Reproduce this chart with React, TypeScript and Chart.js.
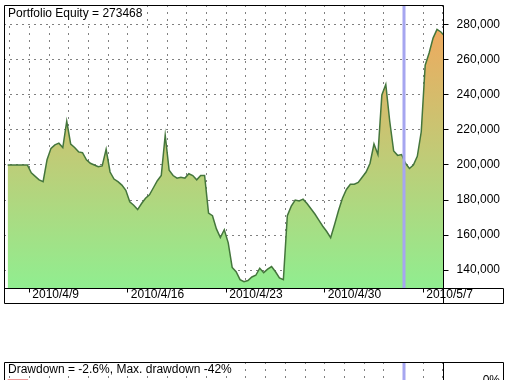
import React, { useEffect, useRef } from 'react';
import { Chart, registerables } from 'chart.js';

Chart.register(...registerables);

// ---- data (x in trading-day units, 0.2 day per sample) ----
const START_DAY = 2.9;
const STEP_DAY = 0.2;
const EQUITY = [
  200000, 200000, 200000, 200000, 200000, 200000,
  195500, 193500, 191500, 190500, 203000,
  209500, 211500, 212500, 210000, 225000,
  212000, 210000, 207500, 207000, 203000,
  201000, 200000, 199000, 199500, 209000,
  196000, 192000, 190500, 188500, 185500,
  179000, 177000, 174500, 178000, 181000,
  183000, 187000, 191000, 194000, 217000,
  197000, 194000, 192500, 193000, 192500,
  195000, 194000, 191500, 194000, 194000,
  172500, 171000, 163500, 158500, 163000,
  155500, 141500, 139000, 134500, 133300,
  134000, 136000, 137000, 141000, 138500,
  140500, 142000, 139000, 135500, 134500,
  171000, 176500, 180000, 179500, 180500,
  178000, 175000, 172000, 168500, 165000,
  162000, 158500, 166000, 174000, 181000,
  186000, 189000, 189000, 190000, 193000,
  196000, 201000, 212000, 206000, 240000,
  246000, 225000, 208000, 205500, 206000,
  201000, 198000, 200000, 205000, 219000,
  257000, 264000, 272500, 277500, 276000, 273468,
];
const DRAWDOWN = [0, 0, 0, 0, 0, 0, -2.3, -3.3, -4.3];

const TICK_LABELS: Record<number, string> = {
  4: '2010/4/9',
  9: '2010/4/16',
  14: '2010/4/23',
  19: '2010/4/30',
  24: '2010/5/7',
};
const DAY_GRID = [3, 4, 5, 6, 7, 8, 9, 10, 11, 12, 13, 14, 15, 16, 17, 18, 19, 20, 21, 22, 23, 24, 25];
const Y_TICKS = [140000, 160000, 180000, 200000, 220000, 240000, 260000, 280000];
const DD_TICKS = [0];
const CURSOR_DAY = 23;
const X_MIN = 2.74;
const X_MAX = 25.03;
const Y_MIN = 129430;
const Y_MAX = 291140;
const DD_MIN = -44;
const DD_MAX = 4;
const TITLE = 'Portfolio Equity = 273468';
const DD_TITLE = 'Drawdown = -2.6%, Max. drawdown -42%';

const FONT = "'Liberation Sans', Arial, sans-serif";
Chart.defaults.font.family = FONT;
Chart.defaults.font.size = 12;
Chart.defaults.color = '#000';

function xScale(showLabels: boolean): any {
  return {
    type: 'linear',
    position: 'bottom',
    min: X_MIN,
    max: X_MAX,
    afterBuildTicks: (s: any) => {
      s.ticks = DAY_GRID.map((v) => ({ value: v }));
    },
    afterFit: (s: any) => {
      s.height = showLabels ? 15 : 0;
      s.paddingLeft = 0;
      s.paddingRight = 0;
    },
    grid: {
      color: '#000',
      lineWidth: 1,
      drawTicks: showLabels,
      tickLength: 4,
      tickWidth: 1,
      tickBorderDash: [],
      tickColor: (c: any) => (c.tick && TICK_LABELS[c.tick.value] ? '#000' : 'rgba(0,0,0,0)'),
    },
    border: { display: false, dash: [1, 6] },
    ticks: {
      display: showLabels,
      autoSkip: false,
      maxRotation: 0,
      minRotation: 0,
      align: 'start',
      labelOffset: 3,
      padding: -5,
      color: '#000',
      font: { size: 12, family: FONT },
      callback: (v: any) => TICK_LABELS[v] ?? '',
    },
  };
}

function cursorPlugin(): any {
  return {
    id: 'cursor',
    afterDatasetsDraw(chart: any) {
      const { ctx, chartArea } = chart;
      const x = chart.scales.x.getPixelForValue(CURSOR_DAY);
      ctx.save();
      ctx.fillStyle = '#a6a6f0';
      ctx.fillRect(Math.round(x) - 1.5, chartArea.top, 3, chartArea.bottom - chartArea.top);
      ctx.restore();
    },
  };
}

function EquityChart() {
  const ref = useRef<HTMLCanvasElement>(null);
  useEffect(() => {
    const points = EQUITY.map((v, i) => ({ x: START_DAY + i * STEP_DAY, y: v }));
    const framePlugin = {
      id: 'frame',
      afterDraw(chart: any) {
        const { ctx, chartArea: a, width, height } = chart;
        ctx.save();
        ctx.fillStyle = '#fff';
        ctx.fillRect(a.left + 0.5, a.top + 0.5, 140, 15);
        ctx.fillStyle = '#000';
        ctx.font = `12px ${FONT}`;
        ctx.textBaseline = 'alphabetic';
        ctx.textAlign = 'left';
        ctx.fillText(TITLE, a.left + 3.5, a.top + 11.5);
        ctx.strokeStyle = '#000';
        ctx.lineWidth = 1;
        const outerR = width - 1.5;
        const outerB = height - 1.5;
        ctx.beginPath();
        ctx.moveTo(a.left, a.top); ctx.lineTo(a.right, a.top);
        ctx.moveTo(a.left, a.top); ctx.lineTo(a.left, outerB);
        ctx.moveTo(a.right, a.top); ctx.lineTo(a.right, outerB);
        ctx.moveTo(a.left, a.bottom); ctx.lineTo(outerR, a.bottom);
        ctx.moveTo(a.left, outerB); ctx.lineTo(outerR, outerB);
        ctx.moveTo(outerR, a.bottom); ctx.lineTo(outerR, outerB);
        ctx.stroke();
        ctx.restore();
      },
    };
    const chart = new Chart(ref.current!, {
      type: 'line',
      data: {
        datasets: [
          {
            data: points,
            borderColor: '#44763c',
            borderWidth: 1.5,
            pointRadius: 0,
            tension: 0,
            fill: 'start',
            backgroundColor: (c: any) => {
              const { ctx, chartArea } = c.chart;
              if (!chartArea) return 'rgba(0,0,0,0)';
              const g = ctx.createLinearGradient(0, chartArea.bottom, 0, chartArea.top);
              g.addColorStop(0, '#90ee90');
              g.addColorStop(1, '#f6a45a');
              return g;
            },
          },
        ],
      },
      options: {
        animation: false,
        responsive: false,
        events: [],
        layout: { padding: { left: 4.5, top: 5.5, right: 5, bottom: 1.5 } },
        plugins: { legend: { display: false }, tooltip: { enabled: false } },
        scales: {
          x: xScale(true),
          y: {
            type: 'linear',
            position: 'right',
            min: Y_MIN,
            max: Y_MAX,
            afterBuildTicks: (s: any) => {
              s.ticks = Y_TICKS.map((v) => ({ value: v }));
            },
            afterFit: (s: any) => {
              s.width = 56.5;
              s.paddingTop = 0;
              s.paddingBottom = 0;
            },
            grid: { color: '#000', lineWidth: 1, tickLength: 5, tickColor: '#000', tickBorderDash: [], tickWidth: 1 },
            border: { display: false, dash: [1, 5] },
            ticks: {
              crossAlign: 'far',
              padding: 8,
              color: '#000',
              font: { size: 12, family: FONT },
              callback: (v: any) => Number(v).toLocaleString('en-US'),
            },
          },
        },
      } as any,
      plugins: [cursorPlugin(), framePlugin],
    });
    return () => chart.destroy();
  }, []);
  return <canvas ref={ref} width={505} height={305} style={{ display: 'block' }} />;
}

function DrawdownChart() {
  const ref = useRef<HTMLCanvasElement>(null);
  useEffect(() => {
    const points = DRAWDOWN.map((v, i) => ({ x: START_DAY + i * STEP_DAY, y: v }));
    const framePlugin = {
      id: 'ddframe',
      afterDraw(chart: any) {
        const { ctx, chartArea: a, width, height } = chart;
        ctx.save();
        ctx.fillStyle = '#fff';
        ctx.fillRect(a.left + 0.5, a.top + 0.5, 235, 11.5);
        ctx.fillStyle = '#000';
        ctx.font = `12px ${FONT}`;
        ctx.textBaseline = 'alphabetic';
        ctx.textAlign = 'left';
        ctx.fillText(DD_TITLE, a.left + 3.5, a.top + 10);
        ctx.strokeStyle = '#000';
        ctx.lineWidth = 1;
        const outerR = width - 1.5;
        ctx.beginPath();
        ctx.moveTo(a.left, a.top); ctx.lineTo(outerR, a.top);
        ctx.moveTo(a.left, a.top); ctx.lineTo(a.left, height);
        ctx.moveTo(a.right, a.top); ctx.lineTo(a.right, height);
        ctx.moveTo(outerR, a.top); ctx.lineTo(outerR, height);
        ctx.stroke();
        ctx.restore();
      },
    };
    const chart = new Chart(ref.current!, {
      type: 'line',
      data: {
        datasets: [
          {
            data: points,
            borderColor: '#e03030',
            borderWidth: 2,
            pointRadius: 0,
            tension: 0,
            fill: false,
          },
        ],
      },
      options: {
        animation: false,
        responsive: false,
        events: [],
        layout: { padding: { left: 4.5, top: 7.5, right: 5, bottom: 16.5 } },
        plugins: { legend: { display: false }, tooltip: { enabled: false } },
        scales: {
          x: xScale(false),
          y: {
            type: 'linear',
            position: 'right',
            min: DD_MIN,
            max: DD_MAX,
            afterBuildTicks: (s: any) => {
              s.ticks = DD_TICKS.map((v) => ({ value: v }));
            },
            afterFit: (s: any) => {
              s.width = 56.5;
              s.paddingTop = 0;
              s.paddingBottom = 0;
            },
            grid: { color: '#000', lineWidth: 1, tickLength: 5, tickColor: '#000', tickBorderDash: [], tickWidth: 1 },
            border: { display: false, dash: [1, 5] },
            ticks: {
              crossAlign: 'far',
              padding: 34,
              color: '#000',
              font: { size: 12, family: FONT },
              callback: (v: any) => `${v}%`,
            },
          },
        },
      } as any,
      plugins: [cursorPlugin(), framePlugin],
    });
    return () => chart.destroy();
  }, []);
  return <canvas ref={ref} width={505} height={240} style={{ display: 'block' }} />;
}

export default function App() {
  return (
    <div
      style={{
        position: 'fixed',
        left: 0,
        top: 0,
        width: 505,
        height: 380,
        overflow: 'hidden',
        background: '#fff',
      }}
    >
      <div style={{ position: 'absolute', left: 0, top: 0 }}>
        <EquityChart />
      </div>
      <div style={{ position: 'absolute', left: 0, top: 355 }}>
        <DrawdownChart />
      </div>
    </div>
  );
}
